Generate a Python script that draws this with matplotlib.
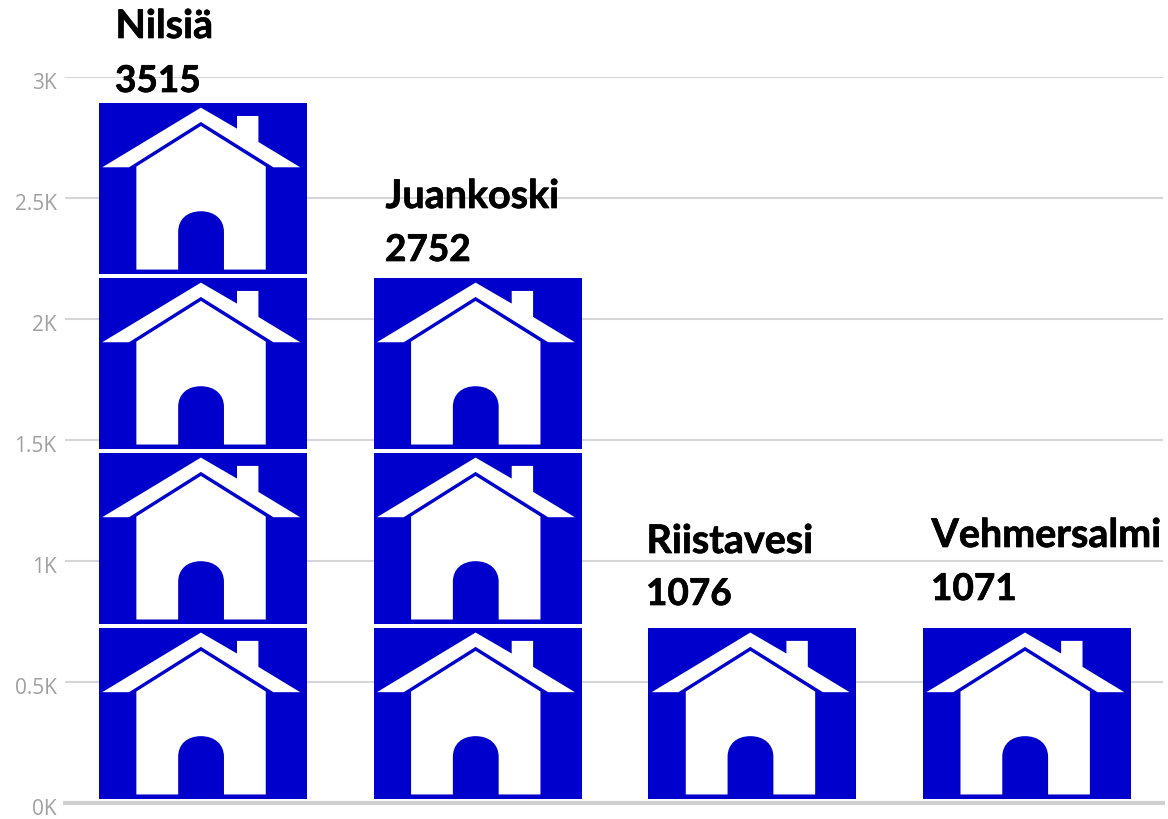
import matplotlib
matplotlib.use("Agg")
import matplotlib.pyplot as plt
import matplotlib.patheffects as pe
from matplotlib.patches import PathPatch, Rectangle
from matplotlib.path import Path
from matplotlib.transforms import Affine2D, ScaledTranslation

towns = ["Nilsiä", "Juankoski", "Riistavesi", "Vehmersalmi"]
values = [3515, 2752, 1076, 1071]
house_counts = [4, 3, 1, 1]
tick_values = [0, 500, 1000, 1500, 2000, 2500, 3000]
tick_labels = ["0K", "0.5K", "1K", "1.5K", "2K", "2.5K", "3K"]

W, H = 1168, 819
BLUE = "#0000cc"

fig = plt.figure(figsize=(W / 100, H / 100), dpi=100)
ax = fig.add_axes([65 / W, 1 - 803 / H, (1163 - 65) / W, (803 - 77) / H])
ax.set_xlim(-0.502, 3.495)
ax.set_ylim(0, 3000)

ax.set_xticks([])
ax.set_yticks(tick_values)
ax.set_yticklabels(tick_labels, family="Open Sans", fontsize=15, color="#a0a0a0")
ax.tick_params(axis="y", length=0, pad=6)
shift = ScaledTranslation(0, -4 / 100, fig.dpi_scale_trans)
for lab in ax.get_yticklabels():
    lab.set_transform(lab.get_transform() + shift)
ax.grid(axis="y", color="#d6d6d6", lw=1.5)
ax.set_axisbelow(True)
for s in ["top", "right", "left"]:
    ax.spines[s].set_visible(False)
ax.spines["bottom"].set_color("#d0d0d0")
ax.spines["bottom"].set_linewidth(3)

# house outline, in pixels of the zoomed tile (622 wide, 515 high, y down)
M, L, C, Z = Path.MOVETO, Path.LINETO, Path.CURVE4, Path.CLOSEPOLY
roof = [(305, 15), (413, 78), (413, 40), (477, 40), (477, 118), (602, 194),
        (522, 194), (305, 58), (90, 194), (10, 194), (305, 15)]
roof_codes = [M] + [L] * 9 + [Z]
body = [(305, 70), (499, 192), (499, 501), (374, 501), (374, 388),
        (374, 350), (346, 326), (305, 326), (264, 326), (237, 350), (237, 388),
        (237, 501), (112, 501), (112, 192), (305, 70)]
body_codes = [M, L, L, L, L, C, C, C, C, C, C, L, L, L, Z]
house = Path(roof + body, roof_codes + body_codes)

tile_w = 0.757
tile_h = 709
step = 723
base = 16

for i, n in enumerate(house_counts):
    for k in range(n):
        x0 = i - tile_w / 2
        y0 = base + k * step
        ax.add_patch(Rectangle((x0, y0), tile_w, tile_h, fc=BLUE, ec="none", zorder=3))
        tr = Affine2D().scale(tile_w / 622, -tile_h / 515).translate(x0, y0 + tile_h) + ax.transData
        ax.add_patch(PathPatch(house, fc="white", ec="none", transform=tr, zorder=4))

label_pos = [(116, 38, 92), (386, 208, 261), (647, 553, 605), (932, 547, 600)]
heavier = [pe.withStroke(linewidth=0.5, foreground="black")]
for town, val, (px, y1, y2) in zip(towns, values, label_pos):
    fig.text((px - 0.5) / W, 1 - y1 / H, town, family="Lato", weight="bold", fontsize=28.4,
             color="black", va="baseline", path_effects=heavier)
    fig.text((px - 1) / W, 1 - y2 / H, str(val), family="Lato", weight="bold", fontsize=26.6,
             color="black", va="baseline", path_effects=heavier)

fig.savefig("out.png", dpi=100, facecolor="white")
